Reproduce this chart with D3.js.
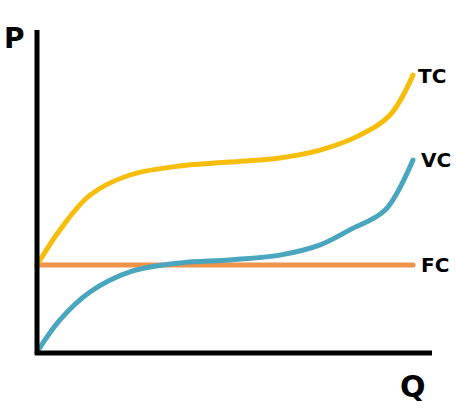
<!DOCTYPE html>
<html><head><meta charset="utf-8">
<script src="https://cdn.jsdelivr.net/npm/d3@7"></script>
<style>body{margin:0;background:#fff}</style></head>
<body><svg id="c" width="474" height="413"></svg>
<script>
const tcQ=[0,0.61,1.41,2.47,3.8,5.13,6.46,7.53,8.59,9.39,10];
const tcV=[29,40.7,52.3,59,62,63.3,64.7,67.3,72.3,79,92.3];
const vcQ=[0,0.61,1.41,2.47,3.8,5.13,6.46,7.53,8.32,9.26,10];
const vcV=[0,10.7,20,26.7,29.7,30.7,32.3,35.7,40.7,47.3,64];
const fcQ=[0,10];
const fcV=[29,29];
const labels=["TC","VC","FC"];
const svg=d3.select("#c");
const x=d3.scaleLinear().domain([0,10]).range([37,413]);
const y=d3.scaleLinear().domain([0,100]).range([352,52]);
const line=d3.line().x(d=>x(d[0])).y(d=>y(d[1])).curve(d3.curveCatmullRom);
const series=[
 {q:fcQ,v:fcV,c:"#F0944A",n:labels[2]},
 {q:vcQ,v:vcV,c:"#4AA6BF",n:labels[1]},
 {q:tcQ,v:tcV,c:"#F6BE0A",n:labels[0]}];
series.forEach(s=>{
 svg.append("path").datum(s.q.map((q,i)=>[q,s.v[i]])).attr("d",line)
  .attr("fill","none").attr("stroke",s.c).attr("stroke-width",5).attr("stroke-linecap","round");
});
svg.append("line").attr("x1",37).attr("x2",37).attr("y1",30).attr("y2",355).attr("stroke","#000").attr("stroke-width",5);
svg.append("line").attr("x1",35).attr("x2",432).attr("y1",353).attr("y2",353).attr("stroke","#000").attr("stroke-width",5);
const f="'DejaVu Sans', sans-serif";
svg.append("text").attr("x",4).attr("y",48).text("P").attr("font-family",f).attr("font-weight","bold").attr("font-size",28);
svg.append("text").attr("x",400).attr("y",397).text("Q").attr("font-family",f).attr("font-weight","bold").attr("font-size",30);
const lp=[[418,83,labels[0]],[421,167,labels[1]],[421,272,labels[2]]];
lp.forEach(p=>svg.append("text").attr("x",p[0]).attr("y",p[1]).text(p[2]).attr("font-family",f).attr("font-weight","bold").attr("font-size",20));
</script></body></html>
